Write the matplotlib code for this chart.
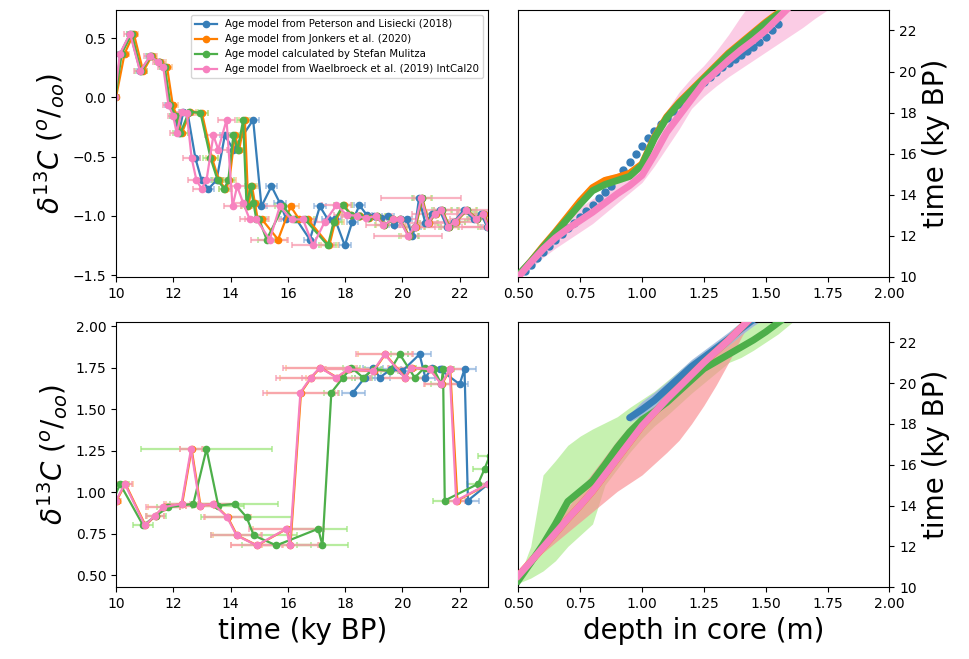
import numpy as np
import matplotlib
import matplotlib.pyplot as plt
matplotlib.use('Agg')

nan = np.nan

labels = ['Age model from Peterson and Lisiecki (2018)',
          'Age model from Jonkers et al. (2020)',
          'Age model calculated by Stefan Mulitza',
          'Age model from Waelbroeck et al. (2019) IntCal20']
colors = ['#377eb8', '#ff7f00', '#4daf4a', '#f781bf']
err_colors = ['#8fb3dd', '#fcbf86', '#9fe67f', '#f79aae']

# ---- core 1: d13C and ages from each age model ----
d13c_top = [0.00, 0.37, 0.54, 0.22, 0.35, 0.30, 0.26, -0.06, -0.16, -0.30,
            -0.12, -0.13, -0.51, -0.70, -0.77, -0.70, -0.32, -0.44, -0.19, -0.92,
            -0.75, -0.89, -1.03, -1.03, -1.20, -0.92, -1.03, -1.03, -1.25, -1.05,
            -0.91, -0.99, -1.00, -1.02, -1.00, -1.08, -1.03, -1.03, -1.17, -1.09,
            -0.85, -1.06, -0.98, -0.95, -1.09, -1.05, -0.95, -1.03, -0.98, -1.09]
age_pl_top = [9.98, 10.15, 10.50, 10.85, 11.20, 11.50, 11.68, 11.86, 12.05, 12.20,
              12.35, 12.50, 12.77, 12.99, 13.23, 13.51, 13.80, 14.10, 14.79, 15.08,
              15.43, 15.72, 15.95, 16.30, 16.77, 17.12, 17.40, 17.65, 17.99, 18.25,
              18.50, 18.75, 19.00, 19.25, 19.50, 19.72, 19.95, 20.15, 20.35, 20.45,
              20.58, 20.80, 21.05, 21.30, 21.55, 21.80, 22.15, 22.50, 22.75, 22.95]
age_jk_top = [10.00, 10.30, 10.62, 10.95, 11.25, 11.55, 11.78, 11.98, 12.12, 12.30,
              12.60, 13.00, 13.35, 13.60, 13.82, 13.96, 14.15, 14.30, 14.50, 14.62,
              14.75, 14.85, 14.95, 15.10, 15.66, 16.10, 16.40, 16.70, 17.45, 17.65,
              17.95, 18.22, 18.52, 18.82, 19.12, 19.37, 19.67, 19.92, 20.24, 20.47,
              20.70, 20.92, 21.17, 21.40, 21.64, 21.87, 22.27, 22.62, 22.84, 23.02]
age_sm_top = [9.98, 10.20, 10.55, 10.88, 11.22, 11.50, 11.70, 11.90, 12.08, 12.25,
              12.55, 12.95, 13.30, 13.55, 13.78, 13.92, 14.10, 14.25, 14.44, 14.56,
              14.70, 14.80, 14.90, 15.00, 15.26, 15.84, 16.20, 16.60, 17.40, 17.60,
              17.93, 18.20, 18.50, 18.80, 19.10, 19.35, 19.65, 19.90, 20.22, 20.45,
              20.68, 20.90, 21.15, 21.38, 21.62, 21.85, 22.25, 22.60, 22.82, 23.00]
age_wb_top = [9.95, 10.14, 10.49, 10.84, 11.19, 11.48, 11.65, 11.83, 12.00, 12.12,
              12.29, 12.47, 12.64, 12.81, 12.99, 13.16, 13.40, 13.57, 13.86, 14.07,
              14.23, 14.44, 14.67, 14.90, 15.37, 15.72, 16.13, 16.53, 16.88, 17.29,
              17.70, 18.05, 18.40, 18.74, 19.09, 19.33, 19.67, 19.90, 20.20, 20.43,
              20.66, 20.90, 21.13, 21.36, 21.60, 21.83, 22.23, 22.58, 22.81, 22.99]
err_pl_top = [0.10, 0.12, 0.12, 0.12, 0.15, 0.15, 0.15, 0.15, 0.15, 0.15,
              0.15, 0.15, 0.18, 0.18, 0.18, 0.18, 0.18, 0.20, 0.20, 0.20,
              0.20, 0.20, 0.20, 0.20, 0.20, 0.20, 0.20, 0.20, 0.20, 0.20,
              0.20, 0.20, 0.20, 0.20, 0.20, 0.20, 0.20, 0.20, 0.20, 0.20,
              0.20, 0.20, 0.20, 0.20, 0.20, 0.20, 0.20, 0.20, 0.20, 0.20]
err_jk_top = [0.10, 0.15, 0.15, 0.15, 0.18, 0.18, 0.18, 0.18, 0.18, 0.20,
              0.20, 0.20, 0.22, 0.22, 0.22, 0.22, 0.22, 0.22, 0.22, 0.22,
              0.22, 0.22, 0.22, 0.25, 0.30, 0.30, 0.30, 0.30, 0.30, 0.30,
              0.30, 0.30, 0.30, 0.30, 0.30, 0.30, 0.30, 0.30, 0.30, 0.30,
              0.30, 0.30, 0.30, 0.30, 0.30, 0.30, 0.30, 0.30, 0.30, 0.30]
err_sm_top = [0.10, 0.12, 0.15, 0.20, 0.15, 0.15, 0.15, 0.15, 0.20, 0.25,
              0.30, 0.25, 0.25, 0.20, 0.20, 0.20, 0.20, 0.20, 0.20, 0.20,
              0.20, 0.20, 0.25, 0.25, 0.30, 0.30, 0.30, 0.30, 0.30, 0.30,
              0.30, 0.30, 0.30, 0.30, 0.30, 0.30, 0.30, 0.30, 0.35, 0.35,
              0.35, 0.35, 0.35, 0.35, 0.35, 0.35, 0.35, 0.35, 0.35, 0.35]
err_wb_top = [0.15, 0.15, 0.20, 0.20, 0.20, 0.20, 0.20, 0.20, 0.20, 0.25,
              0.25, 0.25, 0.30, 0.30, 0.30, 0.30, 0.30, 0.30, 0.30, 0.30,
              0.35, 0.35, 0.35, 0.40, 0.65, 0.50, 0.45, 0.50, 0.75, 0.50,
              0.50, 0.45, 0.50, 0.50, 0.55, 0.60, 0.60, 0.60, 1.20, 0.70,
              1.40, 0.80, 0.80, 0.80, 1.20, 0.80, 0.90, 0.90, 0.90, 0.90]

# ---- core 2 ----
d13c_bot = [0.95, 1.05, 0.80, 0.86, 0.91, 0.93, 1.26, 0.92, 0.93, 0.85,
            0.74, 0.68, 0.78, 0.68, 1.60, 1.69, 1.75, 1.69, 1.74, 1.73,
            1.83, 1.69, 1.75, 1.74, 1.65, 1.74, 0.95, 1.05, 1.14, 1.22]
age_pl_bot = [nan, nan, nan, nan, nan, nan, nan, nan, nan, nan,
              nan, nan, nan, nan, 18.28, 18.69, 18.98, 19.21, 19.60, 20.00,
              20.60, 20.80, 21.05, 21.30, 22.00, 22.17, 22.29, 23.00, 23.40, 23.80]
age_jk_bot = [10.02, 10.33, 11.03, 11.38, 11.67, 12.31, 12.64, 12.95, 13.42, 13.90,
              14.23, 14.93, 15.97, 16.09, 16.46, 16.82, 17.14, 17.72, 18.12, 19.00,
              19.40, 20.10, 20.33, 20.97, 21.38, 21.67, 21.92, 23.01, 23.42, 23.82]
age_sm_bot = [9.90, 10.14, 10.95, 11.40, 11.83, 12.70, 13.16, 13.57, 14.15, 14.56,
              14.81, 15.60, 17.06, 17.21, 17.52, 17.93, 18.22, 18.63, 19.00, 19.56,
              19.91, 20.43, 20.78, 21.10, 21.36, 21.42, 21.48, 22.64, 22.87, 23.05]
age_wb_bot = [10.00, 10.31, 11.01, 11.36, 11.65, 12.29, 12.62, 12.93, 13.40, 13.88,
              14.21, 14.91, 15.95, 16.07, 16.44, 16.80, 17.12, 17.70, 18.10, 18.98,
              19.38, 20.08, 20.31, 20.95, 21.36, 21.65, 21.88, 22.99, 23.40, 23.80]
err_pl_bot = [0.3, 0.3, 0.3, 0.3, 0.3, 0.3, 0.3, 0.3, 0.3, 0.3,
              0.3, 0.3, 0.3, 0.3, 0.40, 0.35, 0.35, 0.35, 0.35, 0.35,
              0.40, 0.35, 0.35, 0.40, 0.30, 0.40, 0.40, 0.40, 0.40, 0.40]
err_jk_bot = [0.15, 0.25, 0.10, 0.30, 0.55, 0.55, 0.40, 0.50, 0.75, 0.80,
              0.85, 0.90, 1.20, 1.00, 1.20, 1.10, 1.20, 1.10, 0.80, 0.90,
              0.95, 0.80, 0.80, 0.70, 0.60, 0.60, 0.30, 0.30, 0.30, 0.30]
err_sm_bot = [0.10, 0.30, 0.35, 0.35, 0.40, 0.80, 2.30, 0.90, 1.50, 1.60,
              1.50, 1.20, 1.00, 0.90, 0.25, 0.30, 0.30, 0.30, 0.30, 0.30,
              0.30, 0.30, 0.30, 0.30, 0.35, 0.40, 0.40, 0.40, 0.40, 0.40]
err_wb_bot = [0.15, 0.25, 0.10, 0.30, 0.60, 0.60, 0.40, 0.50, 0.80, 0.80,
              0.90, 0.90, 1.30, 1.00, 1.30, 1.20, 1.30, 1.20, 0.80, 0.90,
              1.00, 0.80, 0.80, 0.70, 0.60, 0.60, 0.30, 0.30, 0.30, 0.30]

# ---- age-depth models, core 1 ----
depth_top = [0.50, 0.55, 0.60, 0.65, 0.70, 0.75, 0.80, 0.85, 0.90, 0.95, 1.00, 1.05, 1.10,
             1.15, 1.20, 1.25, 1.30, 1.35, 1.40, 1.45, 1.50, 1.55, 1.60, 1.65, 1.70, 1.75]
model_jk_top = [10.05, 10.75, 11.5, 12.2, 12.95, 13.7, 14.35, 14.7, 14.85, 15.05, 15.5, 16.8, 17.8,
                18.5, 19.1, 19.7, 20.3, 20.9, 21.4, 21.9, 22.4, 22.85, 23.25, 23.65, 24.05, 24.45]
model_sm_top = [10.1, 10.75, 11.45, 12.15, 12.85, 13.55, 14.2, 14.5, 14.7, 14.9, 15.45, 16.75, 17.75,
                18.45, 19.05, 19.65, 20.25, 20.85, 21.35, 21.85, 22.35, 22.8, 23.2, 23.6, 24.0, 24.4]
model_wb_top = [10.0, 10.7, 11.35, 11.9, 12.35, 12.75, 13.15, 13.6, 14.05, 14.45, 14.95, 15.95, 17.05,
                17.85, 18.65, 19.45, 20.0, 20.55, 21.05, 21.5, 22.0, 22.6, 23.2, 23.8, 24.4, 25.0]
model_wb_top_lo = [9.9, 10.4, 10.95, 11.4, 11.8, 12.2, 12.6, 13.1, 13.6, 14.1, 14.6, 15.4, 16.3,
                   17.2, 18.2, 18.8, 19.3, 19.75, 20.15, 20.55, 20.95, 21.35, 21.75, 22.15, 22.6, 23.0]
model_wb_top_hi = [10.1, 11.0, 11.75, 12.4, 12.95, 13.4, 13.8, 14.2, 14.55, 14.95, 15.6, 16.8, 18.1,
                   19.0, 19.7, 20.3, 21.0, 21.8, 22.7, 23.5, 24.3, 25.1, 25.9, 26.7, 27.5, 28.3]
depth_pl_top = [0.500, 0.525, 0.550, 0.575, 0.600, 0.625, 0.650, 0.675, 0.700, 0.725, 0.750,
                0.775, 0.800, 0.825, 0.850, 0.875, 0.900, 0.925, 0.950, 0.975, 1.000, 1.025,
                1.050, 1.075, 1.100, 1.125, 1.150, 1.175, 1.200, 1.225, 1.250, 1.275, 1.300,
                1.325, 1.350, 1.375, 1.400, 1.425, 1.450, 1.475, 1.500, 1.525, 1.550]
model_pl_top = [10.0, 10.3, 10.6, 10.9, 11.2, 11.5, 11.8, 12.1, 12.4, 12.65, 12.9,
                13.2, 13.5, 13.85, 14.15, 14.45, 14.8, 15.2, 15.6, 16.0, 16.4, 16.75,
                17.1, 17.45, 17.75, 18.1, 18.4, 18.7, 19.0, 19.25, 19.5, 19.75, 20.0,
                20.2, 20.4, 20.6, 20.8, 21.0, 21.2, 21.45, 21.7, 22.0, 22.3]

# ---- age-depth models, core 2 ----
depth_bot = [0.50, 0.55, 0.60, 0.65, 0.70, 0.75, 0.80, 0.85, 0.90, 0.95, 1.00, 1.05,
             1.10, 1.15, 1.20, 1.25, 1.30, 1.35, 1.40, 1.45, 1.50, 1.55, 1.60, 1.65]
model_sm_bot = [10.33, 11.2, 12.1, 13.1, 14.2, 14.7, 15.2, 16.0, 16.85, 17.6, 18.2, 18.6,
                19.05, 19.6, 20.15, 20.7, 21.05, 21.4, 21.75, 22.1, 22.5, 22.95, 23.4, 23.8]
model_sm_bot_lo = [10.2, 10.45, 10.8, 11.3, 12.0, 12.55, 13.1, 15.0, 15.8, 16.6, 17.3, 17.9,
                   18.4, 18.95, 19.5, 20.0, 20.5, 21.0, 21.25, 21.6, 22.0, 22.4, 22.9, 23.4]
model_sm_bot_hi = [10.4, 12.0, 15.5, 16.2, 16.95, 17.4, 17.75, 18.05, 18.35, 18.8, 19.2, 19.6,
                   20.1, 20.6, 21.1, 21.5, 21.85, 22.2, 22.6, 23.0, 23.4, 23.8, 24.2, 24.5]
model_wb_bot = [10.57, 11.25, 11.95, 12.65, 13.35, 14.0, 14.7, 15.5, 16.3, 17.1, 17.9, 18.55,
                19.2, 19.8, 20.4, 21.0, 21.55, 22.1, 22.7, 23.3, 23.9, 24.5, 25.1, 25.7]
model_wb_bot_lo = [10.5, 11.1, 11.7, 12.2, 12.7, 13.2, 13.7, 14.2, 14.7, 15.1, 15.5, 16.05,
                   16.6, 17.2, 18.0, 18.9, 19.9, 21.0, 22.2, 23.3, 24.0, 24.6, 25.2, 25.8]
model_wb_bot_hi = [10.6, 11.5, 12.3, 13.1, 13.9, 14.8, 15.6, 16.4, 17.2, 17.9, 18.4, 18.8,
                   19.3, 19.9, 20.5, 21.1, 21.7, 22.3, 22.9, 23.5, 24.1, 24.7, 25.3, 25.9]
depth_pl_bot = [0.95, 1.00, 1.05, 1.10, 1.15, 1.20, 1.25, 1.30, 1.35, 1.40, 1.45, 1.50]
model_pl_bot = [18.3, 18.7, 19.15, 19.7, 20.25, 20.8, 21.25, 21.7, 22.15, 22.65, 23.1, 23.5]
model_pl_bot_lo = [18.1, 18.4, 18.85, 19.4, 19.95, 20.5, 20.95, 21.4, 21.85, 22.35, 22.8, 23.2]
model_pl_bot_hi = [18.5, 19.1, 19.55, 20.05, 20.6, 21.15, 21.6, 22.05, 22.5, 23.0, 23.45, 23.85]

d13c_label = r'$\delta^{13}C\ (^o/_{oo})$'

fig = plt.figure(figsize=(9.69, 6.59), dpi=100)
ax_tl = fig.add_axes([0.1197, 0.5797, 0.3842, 0.4052])
ax_tr = fig.add_axes([0.5349, 0.5797, 0.3829, 0.4052])
ax_bl = fig.add_axes([0.1197, 0.1088, 0.3842, 0.4030])
ax_br = fig.add_axes([0.5349, 0.1088, 0.3829, 0.4030])


def draw_core(ax, vals, ages, errs):
    for age, err, ec in zip(ages, errs, err_colors):
        ax.errorbar(age, vals, xerr=err, fmt='none', ecolor=ec, elinewidth=1.6,
                    capsize=2, capthick=1.2, alpha=0.75, zorder=1)
    for age, c, lab in zip(ages, colors, labels):
        ax.plot(age, vals, '-o', color=c, lw=1.6, ms=4.5, label=lab, zorder=2)
    ax.set_xlim(10, 23)
    ax.set_ylabel(d13c_label, fontsize=20)


draw_core(ax_tl, d13c_top, [age_pl_top, age_jk_top, age_sm_top, age_wb_top],
          [err_pl_top, err_jk_top, err_sm_top, err_wb_top])
ax_tl.set_ylim(-1.516, 0.739)
ax_tl.set_yticks([-1.5, -1.0, -0.5, 0.0, 0.5])
ax_tl.legend(loc='upper right', fontsize=7.3, handlelength=2.2)

draw_core(ax_bl, d13c_bot, [age_pl_bot, age_jk_bot, age_sm_bot, age_wb_bot],
          [err_pl_bot, err_jk_bot, err_sm_bot, err_wb_bot])
ax_bl.set_ylim(0.428, 2.026)
ax_bl.set_yticks([0.5, 0.75, 1.0, 1.25, 1.5, 1.75, 2.0])
ax_bl.set_xlabel('time (ky BP)', fontsize=20)

# age-depth panels
ax_tr.fill_between(depth_top, model_wb_top_lo, model_wb_top_hi, color='#f781bf',
                   alpha=0.4, lw=0, zorder=1)
ax_tr.fill_between(depth_top, [a - 0.2 for a in model_jk_top], [a + 0.2 for a in model_jk_top],
                   color='#d9a07a', alpha=0.45, lw=0, zorder=1)
ax_tr.fill_between(depth_top, [a - 0.15 for a in model_sm_top], [a + 0.15 for a in model_sm_top],
                   color='#a6e38c', alpha=0.5, lw=0, zorder=1)
ax_tr.plot(depth_pl_top, model_pl_top, 'o', color=colors[0], ms=5, zorder=2)
ax_tr.plot(depth_top, model_jk_top, color=colors[1], lw=5, zorder=3)
ax_tr.plot(depth_top, model_sm_top, color=colors[2], lw=5, zorder=4)
ax_tr.plot(depth_top, model_wb_top, color=colors[3], lw=5, zorder=5)

ax_br.fill_between(depth_bot, model_sm_bot_lo, model_sm_bot_hi, color='#a8ea86',
                   alpha=0.65, lw=0, zorder=1)
ax_br.fill_between(depth_bot, model_wb_bot_lo, model_wb_bot_hi, color='#f98b8f',
                   alpha=0.65, lw=0, zorder=1)
ax_br.fill_between(depth_pl_bot, model_pl_bot_lo, model_pl_bot_hi, color='#9fb8dc',
                   alpha=0.9, lw=0, zorder=1)
ax_br.plot(depth_pl_bot, model_pl_bot, color=colors[0], lw=5, solid_capstyle='round', zorder=3)
ax_br.plot(depth_bot, model_wb_bot, color=colors[1], lw=5, zorder=3)
ax_br.plot(depth_bot, model_sm_bot, color=colors[2], lw=5, zorder=4)
ax_br.plot(depth_bot, model_wb_bot, color=colors[3], lw=5, zorder=5)

for ax in (ax_tr, ax_br):
    ax.set_xlim(0.5, 2.0)
    ax.set_ylim(10, 23)
    ax.set_xticks([0.5, 0.75, 1.0, 1.25, 1.5, 1.75, 2.0])
    ax.yaxis.tick_right()
    ax.yaxis.set_label_position('right')
    ax.set_ylabel('time (ky BP)', fontsize=20)
ax_br.set_xlabel('depth in core (m)', fontsize=20)

for ax in (ax_tl, ax_tr, ax_bl, ax_br):
    ax.tick_params(labelsize=10)

fig.savefig('out.png', dpi=100)
